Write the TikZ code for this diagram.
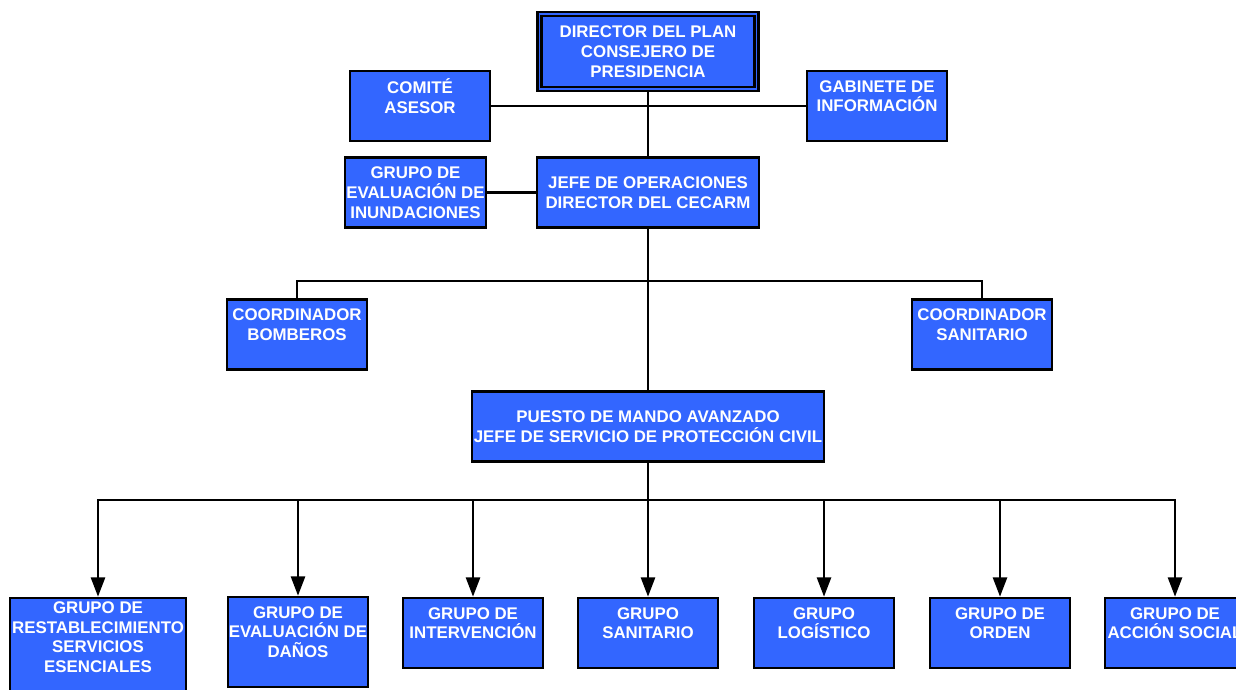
\documentclass[tikz,border=0pt]{standalone}
\usepackage{fontspec}
\setmainfont{Liberation Sans}
\usetikzlibrary{arrows.meta}

\definecolor{boxblue}{RGB}{51,102,255}

\tikzset{
  box/.style={draw, line width=1.5pt, fill=boxblue, text=white, align=center,
    inner sep=0pt, minimum width=2.8cm, minimum height=1.4cm,
    font=\fontsize{9.6}{11.3}\selectfont\bfseries},
  dbox/.style={box, line width=1.4pt, double=boxblue, double distance=1pt},
  link/.style={line width=1.4pt},
  arr/.style={link, -{Triangle[length=11pt,width=8pt]}}
}

\begin{document}
\begin{tikzpicture}[x=0.02cm, y=-0.02cm]

\fill[white] (0,0) rectangle (1236,689);
\useasboundingbox (0,0) rectangle (1236,689);

% top
\node[dbox, minimum width=4.34cm, minimum height=1.5cm] (dir) at (648,51.5) {DIRECTOR DEL PLAN\\CONSEJERO DE\\PRESIDENCIA};
\node[box] (comite) at (420,106) {COMITÉ\\ASESOR\\\mbox{}};
\node[box] (gabinete) at (877,106) {GABINETE DE\\INFORMACIÓN\\\mbox{}};

% operaciones
\node[box, minimum width=2.82cm] (inund) at (415.5,192.5) {GRUPO DE\\EVALUACIÓN DE\\INUNDACIONES};
\node[box, minimum width=4.44cm] (jefe) at (648,192.5) {JEFE DE OPERACIONES\\DIRECTOR DEL CECARM};

% coordinadores
\node[box] (bomb) at (297,334.5) {COORDINADOR\\BOMBEROS\\\mbox{}};
\node[box] (sanit) at (982,334.5) {COORDINADOR\\SANITARIO\\\mbox{}};

% PMA
\node[box, minimum width=7.04cm] (pma) at (648,426.5) {PUESTO DE MANDO AVANZADO\\JEFE DE SERVICIO DE PROTECCIÓN CIVIL};

% grupos
\node[box, minimum width=3.52cm, minimum height=1.96cm] (g1) at (98,647) {GRUPO DE\\RESTABLECIMIENTO\\SERVICIOS\\ESENCIALES\\\mbox{}};
\node[box, minimum height=1.8cm] (g2) at (298,642) {GRUPO DE\\EVALUACIÓN DE\\DAÑOS\\\mbox{}};
\node[box] (g3) at (473,633) {GRUPO DE\\INTERVENCIÓN\\\mbox{}};
\node[box] (g4) at (648,633) {GRUPO\\SANITARIO\\\mbox{}};
\node[box] (g5) at (824,633) {GRUPO\\LOGÍSTICO\\\mbox{}};
\node[box] (g6) at (1000,633) {GRUPO DE\\ORDEN\\\mbox{}};
\node[box] (g7) at (1175,633) {GRUPO DE\\ACCIÓN SOCIAL\\\mbox{}};

% links
\draw[link] (dir.south) -- (jefe.north);
\draw[link] (comite.east) -- (gabinete.west);
\draw[link] (inund.east) -- (jefe.west);
\draw[link] (jefe.south) -- (pma.north);
\draw[link] (bomb.north) -- ++(0,-17) -| (sanit.north);

\foreach \g in {g1,g2,g3,g4,g5,g6,g7}
  \draw[arr] (pma.south) -- ++(0,37) -| (\g.north);

\end{tikzpicture}
\end{document}
